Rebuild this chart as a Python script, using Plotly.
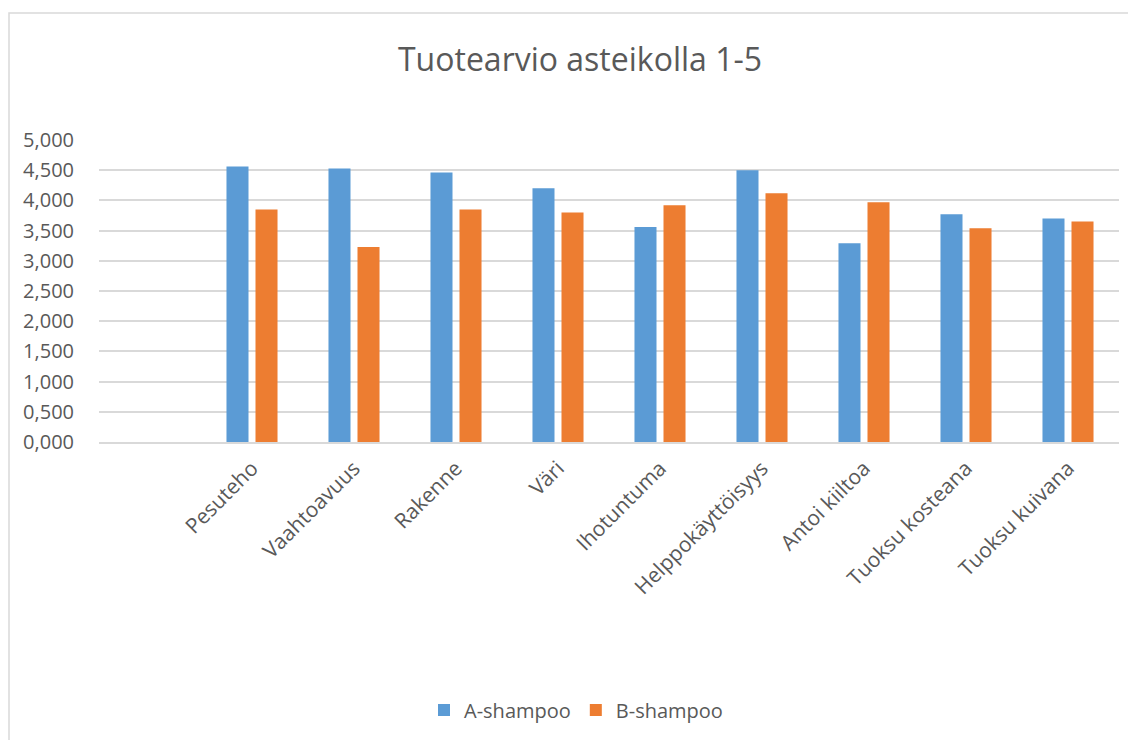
import plotly.graph_objects as go

categories = [" ", "Pesuteho", "Vaahtoavuus", "Rakenne", "Väri", "Ihotuntuma",
              "Helppokäyttöisyys", "Antoi kiiltoa", "Tuoksu kosteana", "Tuoksu kuivana"]
a_shampoo = [None, 4.56, 4.53, 4.46, 4.20, 3.56, 4.50, 3.29, 3.77, 3.70]
b_shampoo = [None, 3.85, 3.23, 3.85, 3.80, 3.92, 4.12, 3.97, 3.54, 3.65]
y_ticks = [0, 0.5, 1, 1.5, 2, 2.5, 3, 3.5, 4, 4.5, 5]

FONT = "Open Sans"
GREY = "#595959"

fig = go.Figure()
fig.add_trace(go.Bar(name="A-shampoo", x=categories, y=a_shampoo, marker_color="#5B9BD5",
                     marker_line_width=0))
fig.add_trace(go.Bar(name="B-shampoo", x=categories, y=b_shampoo, marker_color="#ED7D31",
                     marker_line_width=0))

OFF = 8  # page body margin
W, H = 1136, 740
L, R, T, B = 99 - OFF, 1119 - OFF, 140 - OFF, 442 - OFF
fig.update_layout(
    width=W, height=H,
    margin=dict(l=L, r=W - R, t=T, b=H - B, autoexpand=False),
    paper_bgcolor="white", plot_bgcolor="white",
    separators=", ",
    barmode="group", bargap=0.431, bargroupgap=0.241,
    title=dict(text="Tuotearvio asteikolla 1-5", x=(580 - OFF) / W, xanchor="center",
               y=1 - (60 - OFF) / H, yanchor="middle", yref="container",
               font=dict(family=FONT, size=32, color=GREY)),
    font=dict(family=FONT, color=GREY),
    legend=dict(orientation="h", x=(576 - OFF - L) / (R - L), xanchor="center",
                y=(B - (710 - OFF)) / (B - T), yanchor="middle",
                font=dict(family=FONT, size=20, color=GREY),
                itemwidth=30, traceorder="normal"),
    xaxis=dict(tickangle=-45, tickfont=dict(family=FONT, size=21, color=GREY),
               showgrid=False, showline=True, linecolor="#d9d9d9", linewidth=1.5,
               ticks="", zeroline=False, ticklabelstandoff=4),
    yaxis=dict(range=[0, 5], tickvals=y_ticks, tickformat=".3f",
               tickfont=dict(family=FONT, size=20, color=GREY),
               showgrid=True, gridcolor="#d9d9d9", gridwidth=1.5,
               zeroline=False, showline=False, ticks="", ticklabelstandoff=24),
    shapes=[dict(type="rect", xref="paper", yref="paper",
                 x0=(9 - OFF - L) / (R - L), x1=(W + 20 - L) / (R - L),
                 y0=(B - H - 20) / (B - T), y1=(B - (13 - OFF)) / (B - T),
                 line=dict(color="#d9d9d9", width=1.5), layer="below")],
)

fig.write_html("out.html")
